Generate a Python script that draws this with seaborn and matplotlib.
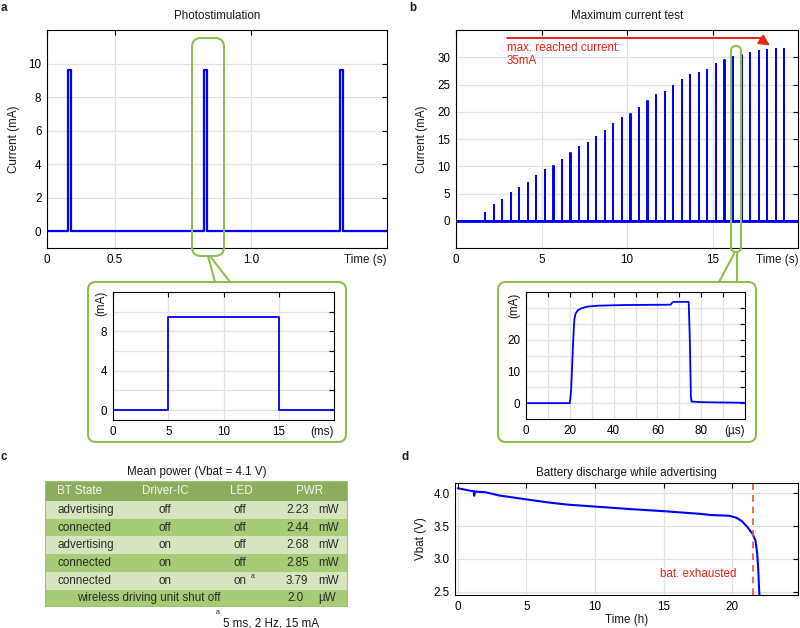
import numpy as np
import pandas as pd
import matplotlib
matplotlib.use("Agg")
import matplotlib.pyplot as plt
import seaborn as sns
from matplotlib.patches import FancyBboxPatch, Rectangle
from matplotlib.lines import Line2D
from matplotlib.transforms import Affine2D

# ---------------- data ----------------
# a: photostimulation (s, mA)
pulse_onsets = [0.327, 0.827, 1.327]
pulse_width = 0.01
pulse_amp = 9.6

# a inset: one pulse (ms, mA)
pulse_t = [0, 5, 5, 15, 15, 20]
pulse_i = [0, 0, 9.5, 9.5, 0, 0]

# b: maximum current test (s, mA)
spike_times = [1.7, 2.2, 2.7, 3.2, 3.7, 4.2, 4.7, 5.2, 5.7, 6.2, 6.7, 7.2,
               7.7, 8.2, 8.7, 9.2, 9.7, 10.2, 10.7, 11.2, 11.7, 12.2, 12.7, 13.2,
               13.7, 14.2, 14.7, 15.2, 15.7, 16.2, 16.7, 17.2, 17.7, 18.2, 18.7, 19.2]
spike_heights = [1.5, 2.9, 3.8, 5.1, 6.0, 6.9, 8.2, 9.4, 10.0, 11.2, 12.4, 13.6,
                 14.2, 15.3, 16.5, 17.8, 18.9, 19.5, 20.7, 21.9, 23.1, 23.7, 24.8, 25.9,
                 26.7, 27.1, 27.7, 28.8, 29.5, 30.1, 30.4, 30.8, 31.2, 31.4, 31.5, 31.5]

# b inset: one spike (us, mA)
spike_t = [0, 20, 20.6, 21.2, 21.7, 22.1, 22.7, 23.6, 25, 28, 33, 45, 66,
           66.8, 67.5, 74.3, 74.8, 75.3, 75.6, 80, 100]
spike_i = [0, 0, 4, 14, 22, 26.5, 28.3, 29.2, 29.8, 30.4, 30.7, 30.9, 31.0,
           31.7, 31.9, 31.9, 20, 2, 0.5, 0.3, 0.1]

# c: mean power table
bt_state = ["advertising", "connected", "advertising", "connected", "connected"]
driver_ic = ["off", "off", "on", "on", "on"]
led = ["off", "off", "off", "off", "on"]
pwr = ["2.23", "2.44", "2.68", "2.85", "3.79"]
shutoff_label = "wireless driving unit shut off"
shutoff_pwr = "2.0"

# d: battery discharge (h, V)
dis_t = [0, 1.2, 1.2, 1.2, 2, 3, 5, 6.7, 8, 10, 12.7, 15, 17.6, 18.5, 19.8,
         20.3, 20.7, 21.1, 21.5, 21.7, 21.82, 21.9, 21.95, 22.0]
dis_v = [4.08, 4.03, 3.97, 4.03, 4.02, 3.97, 3.91, 3.86, 3.83, 3.80, 3.76, 3.73,
         3.69, 3.67, 3.66, 3.63, 3.58, 3.49, 3.38, 3.28, 3.10, 2.85, 2.6, 2.40]
exhausted_t = 21.55

# ---------------- style ----------------
sns.set_theme(style="whitegrid")
plt.rcParams["font.family"] = ["Liberation Sans", "DejaVu Sans"]
plt.rcParams.update({
    "font.size": 8.4,
    "axes.edgecolor": "black",
    "axes.linewidth": 0.8,
    "grid.color": "#e2e2e2",
    "grid.linewidth": 0.9,
    "xtick.color": "black",
    "ytick.color": "black",
    "xtick.labelsize": 8.4,
    "ytick.labelsize": 8.4,
    "axes.labelsize": 8.4,
    "axes.titlesize": 8.4,
    "text.color": "#1a1a1a",
    "axes.labelcolor": "#1a1a1a",
})

W, H = 800, 628
BLUE = "#0000ff"
RED = "#e8231a"
GREEN = "#8fc04f"

fig = plt.figure(figsize=(8, 6.28), dpi=100)
px = Affine2D().scale(1 / W, -1 / H).translate(0, 1) + fig.transFigure


def add_ax(x0, y0, x1, y1):
    return fig.add_axes([x0 / W, 1 - y1 / H, (x1 - x0) / W, (y1 - y0) / H])


def style_ax(ax):
    ax.tick_params(direction="in", length=3.5, width=0.8, top=True, right=True, pad=4)
    for s in ax.spines.values():
        s.set_color("black")
        s.set_linewidth(0.8)
    ax.set_xlabel("")
    ax.set_ylabel("")


def unit_label(ax, x, text):
    ax.annotate(text, xy=(x, 0), xycoords=("data", "axes fraction"),
                xytext=(0, -4), textcoords="offset points", ha="center", va="top")


# ---------------- a ----------------
ax_a = add_ax(47, 30, 387, 248)
ta, ia = [0.25], [0]
for t0 in pulse_onsets:
    ta += [t0, t0, t0 + pulse_width, t0 + pulse_width]
    ia += [0, pulse_amp, pulse_amp, 0]
ta.append(1.5)
ia.append(0)
sns.lineplot(data=pd.DataFrame({"t": ta, "i": ia}), x="t", y="i", ax=ax_a,
             sort=False, estimator=None, color=BLUE, lw=1.6)
ax_a.set_xlim(0.25, 1.5)
ax_a.set_ylim(-1, 12)
ax_a.set_xticks([0.25, 0.5, 1.0])
ax_a.set_xticklabels(["0", "0.5", "1.0"])
ax_a.set_yticks([0, 2, 4, 6, 8, 10])
style_ax(ax_a)
ax_a.set_ylabel("Current (mA)")
ax_a.yaxis.set_label_coords(-27 / 340, 0.5)
ax_a.set_title("Photostimulation", pad=8)
unit_label(ax_a, 1.42, "Time (s)")

# ---------------- b ----------------
ax_b = add_ax(456, 30, 798, 248)
tb, ib = [0], [0]
for t0, h in zip(spike_times, spike_heights):
    tb += [t0 - 0.005, t0 - 0.005, t0 + 0.005, t0 + 0.005]
    ib += [0, h, h, 0]
tb.append(20)
ib.append(0)
sns.lineplot(data=pd.DataFrame({"t": tb, "i": ib}), x="t", y="i", ax=ax_b,
             sort=False, estimator=None, color=BLUE, lw=1.4)
ax_b.axhline(0, color=BLUE, lw=2.0, zorder=1)
ax_b.set_xlim(0, 20)
ax_b.set_ylim(-5, 35)
ax_b.set_xticks([0, 5, 10, 15])
ax_b.set_yticks([0, 5, 10, 15, 20, 25, 30])
style_ax(ax_b)
ax_b.set_ylabel("Current (mA)")
ax_b.yaxis.set_label_coords(-28 / 342, 0.5)
ax_b.set_title("Maximum current test", pad=8)
unit_label(ax_b, 18.77, "Time (s)")
ax_b.plot([2.97, 17.9], [33.5, 33.5], color=RED, lw=1.4)
ax_b.annotate("", xy=(18.5, 31.9), xytext=(17.7, 33.5),
              arrowprops=dict(arrowstyle="-|>", color=RED, lw=1.4, mutation_scale=16))
ax_b.text(2.97, 30.5, "max. reached current:\n35mA", color=RED, va="center",
          ha="left", linespacing=1.2)

# ---------------- insets ----------------
ax_ia = add_ax(113, 292, 334, 420)
sns.lineplot(data=pd.DataFrame({"t": pulse_t, "i": pulse_i}), x="t", y="i", ax=ax_ia,
             sort=False, estimator=None, color=BLUE, lw=1.3)
ax_ia.set_xlim(0, 20)
ax_ia.set_ylim(-1, 12)
ax_ia.set_xticks([0, 5, 10, 15])
ax_ia.set_yticks([0, 2, 4, 6, 8, 10])
ax_ia.set_yticklabels(["0", "", "4", "", "8", ""])
style_ax(ax_ia)
unit_label(ax_ia, 18.9, "(ms)")
ax_ia.annotate("(mA)", xy=(0, 10.8), xycoords=("axes fraction", "data"),
               xytext=(-4, 0), textcoords="offset points", ha="right", va="center",
               rotation=90)

ax_ib = add_ax(526, 292, 745, 419)
sns.lineplot(data=pd.DataFrame({"t": spike_t, "i": spike_i}), x="t", y="i", ax=ax_ib,
             sort=False, estimator=None, color=BLUE, lw=1.3)
ax_ib.set_xlim(0, 100)
ax_ib.set_ylim(-5, 35)
ax_ib.set_xticks(range(0, 100, 10))
ax_ib.set_xticklabels([str(v) if v % 20 == 0 else "" for v in range(0, 100, 10)])
ax_ib.set_yticks([0, 5, 10, 15, 20, 25, 30])
ax_ib.set_yticklabels(["0", "", "10", "", "20", "", ""])
style_ax(ax_ib)
unit_label(ax_ib, 95.4, "(\u00b5s)")
ax_ib.annotate("(mA)", xy=(0, 30.9), xycoords=("axes fraction", "data"),
               xytext=(-4, 0), textcoords="offset points", ha="right", va="center",
               rotation=90)

# green callouts
for (x0, y0, x1, y1, r) in [(192, 38, 224, 256, 9), (731, 46, 741, 252, 5),
                            (88, 282, 346, 442, 8), (498, 282, 756, 442, 8)]:
    fig.add_artist(FancyBboxPatch((x0, y0), x1 - x0, y1 - y0,
                                  boxstyle=f"round,pad=0,rounding_size={r}",
                                  transform=px, fill=False, ec=GREEN, lw=1.5, zorder=5))
for (xa, ya, xb, yb) in [(208, 256, 215, 282), (210, 256, 230, 282),
                         (735, 252, 719, 282), (737, 252, 737, 282)]:
    fig.add_artist(Line2D([xa, xb], [ya, yb], transform=px, color=GREEN, lw=1.5, zorder=5))

# ---------------- c: table ----------------
tab = add_ax(45, 481, 348, 607)
tab.set_xlim(0, 303)
tab.set_ylim(126, 0)
tab.axis("off")
head_h, row_h = 20, 17.7
tab.add_patch(Rectangle((0, 0), 303, head_h, fc="#8cad5e", ec="none"))
row_cols = ["#d6e5bf", "#a8cb77"]
for k in range(6):
    tab.add_patch(Rectangle((0, head_h + k * row_h), 303, row_h, fc=row_cols[k % 2], ec="none"))
tab.add_patch(Rectangle((0, 0), 303, 126, fill=False, ec="#9cc76a", lw=1.5))
hc = "#f4f7ee"
tab.text(12, head_h / 2, "BT State", color=hc, va="center", ha="left")
tab.text(120, head_h / 2, "Driver-IC", color=hc, va="center", ha="center")
tab.text(196, head_h / 2, "LED", color=hc, va="center", ha="center")
tab.text(265, head_h / 2, "PWR", color=hc, va="center", ha="center")
tc = "#2a2a2a"
for k in range(5):
    yc = head_h + (k + 0.5) * row_h
    tab.text(12, yc, bt_state[k], color=tc, va="center", ha="left")
    tab.text(120, yc, driver_ic[k], color=tc, va="center", ha="center")
    tab.text(188, yc, led[k], color=tc, va="center", ha="left")
    tab.text(241, yc, pwr[k], color=tc, va="center", ha="left")
    tab.text(273, yc, "mW", color=tc, va="center", ha="left")
tab.text(206, head_h + 4.5 * row_h - 4, "a", color=tc, va="center", ha="left", fontsize=5)
yc = head_h + 5.5 * row_h
tab.text(104, yc, shutoff_label, color=tc, va="center", ha="center")
tab.text(242, yc, shutoff_pwr, color=tc, va="center", ha="left")
tab.text(273, yc, "\u00b5W", color=tc, va="center", ha="left")
fig.text(197 / W, 1 - 472 / H, "Mean power (Vbat = 4.1 V)", ha="center", va="center")
fig.text(216 / W, 1 - 612 / H, "a", ha="left", va="center", fontsize=5)
fig.text(223 / W, 1 - 623 / H, "5 ms, 2 Hz, 15 mA", ha="left", va="center")

# ---------------- d ----------------
ax_d = add_ax(455, 483, 798, 595)
sns.lineplot(data=pd.DataFrame({"t": dis_t, "v": dis_v}), x="t", y="v", ax=ax_d,
             sort=False, estimator=None, color=BLUE, lw=1.5)
ax_d.axvline(exhausted_t, color="#e4553c", lw=1.2, ls=(0, (4, 3)))
ax_d.set_xlim(-0.2, 24.8)
ax_d.set_ylim(2.45, 4.16)
ax_d.set_xticks([0, 5, 10, 15, 20])
ax_d.set_yticks([2.5, 3.0, 3.5, 4.0])
ax_d.set_yticklabels(["2.5", "3.0", "3.5", "4.0"])
style_ax(ax_d)
ax_d.set_ylabel("Vbat (V)")
ax_d.yaxis.set_label_coords(-28 / 343, 0.5)
ax_d.set_xlabel("Time (h)")
ax_d.xaxis.set_label_coords(0.5, -19 / 112)
ax_d.set_title("Battery discharge while advertising", pad=5)
ax_d.text(20.3, 2.77, "bat. exhausted", color=RED, ha="right", va="center")

# panel letters
for lab, x, y in [("a", 4, 8), ("b", 413, 8), ("c", 4, 457), ("d", 405, 457)]:
    fig.text(x / W, 1 - y / H, lab, fontweight="bold", ha="center", va="center", fontsize=8.4)

fig.savefig("out.png", dpi=100)
